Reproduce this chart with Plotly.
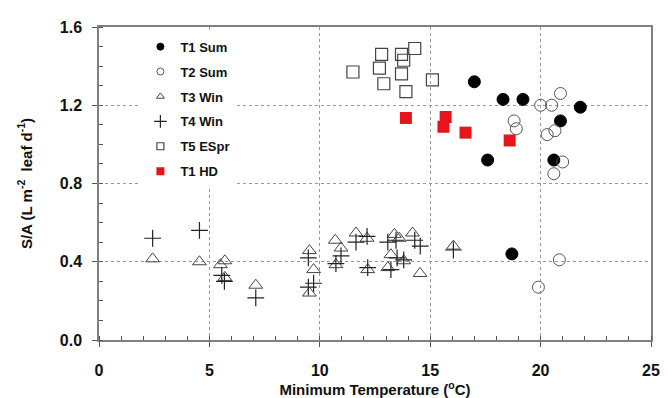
import plotly.graph_objects as go

# ---- data ----
t1_sum_x = [17.0, 18.3, 19.2, 21.8, 20.9, 17.6, 20.6, 18.7]
t1_sum_y = [1.32, 1.23, 1.23, 1.19, 1.12, 0.92, 0.92, 0.44]

t2_sum_x = [20.9, 20.0, 20.5, 18.8, 18.9, 20.65, 20.3, 21.0, 20.6, 20.85, 19.9]
t2_sum_y = [1.26, 1.20, 1.20, 1.12, 1.08, 1.07, 1.05, 0.91, 0.85, 0.41, 0.27]

t3_win_x = [2.43, 4.55, 5.5, 5.7, 5.7, 7.1, 9.53, 9.72, 9.53, 10.7, 10.96, 10.73,
            11.64, 12.14, 12.17, 13.38, 13.6, 13.22, 13.08, 13.8, 14.2, 14.54, 16.05]
t3_win_y = [0.415, 0.40, 0.385, 0.405, 0.32, 0.28, 0.457, 0.36, 0.24, 0.51, 0.47, 0.385,
            0.547, 0.52, 0.36, 0.54, 0.52, 0.436, 0.37, 0.405, 0.547, 0.34, 0.48]

t4_win_x = [2.43, 4.55, 5.56, 5.68, 7.1, 9.48, 9.72, 9.48, 10.96, 10.73, 11.64, 12.14,
            12.17, 13.08, 13.45, 13.22, 13.8, 13.5, 14.3, 14.55, 16.05]
t4_win_y = [0.52, 0.56, 0.33, 0.30, 0.215, 0.42, 0.29, 0.27, 0.43, 0.39, 0.50, 0.53,
            0.37, 0.50, 0.51, 0.36, 0.41, 0.42, 0.51, 0.48, 0.46]

t5_espr_x = [11.5, 12.8, 12.7, 12.9, 13.7, 13.8, 13.7, 14.3, 13.9, 15.1]
t5_espr_y = [1.37, 1.46, 1.39, 1.31, 1.46, 1.43, 1.36, 1.49, 1.27, 1.33]

t1_hd_x = [13.9, 15.7, 15.6, 16.6, 18.6]
t1_hd_y = [1.135, 1.14, 1.09, 1.06, 1.02]

series_names = ["T1 Sum", "T2 Sum", "T3 Win", "T4 Win", "T5 ESpr", "T1 HD"]

FONT = "Liberation Sans, Arial, sans-serif"

styles = [
    dict(symbol="circle", color="black", line=dict(color="black", width=1)),
    dict(symbol="circle-open", color="#555555", line=dict(color="#555555", width=1)),
    dict(symbol="triangle-up-open", color="#444444", line=dict(color="#444444", width=1)),
    dict(symbol="cross-thin-open", color="#222222", line=dict(color="#222222", width=1.2)),
    dict(symbol="square-open", color="#444444", line=dict(color="#444444", width=1.2)),
    dict(symbol="square", color="#e8141b", line=dict(color="#e8141b", width=0)),
]
sizes = [12, 12, 12, 12, 12, 12]
legend_sizes = [7, 7, 7, 9, 7, 8]
xs = [t1_sum_x, t2_sum_x, t3_win_x, t4_win_x, t5_espr_x, t1_hd_x]
ys = [t1_sum_y, t2_sum_y, t3_win_y, t4_win_y, t5_espr_y, t1_hd_y]

fig = go.Figure()
for i, name in enumerate(series_names):
    st = styles[i]
    fig.add_trace(go.Scatter(
        x=xs[i], y=ys[i], mode="markers", name=name, showlegend=False,
        marker=dict(symbol=st["symbol"], size=sizes[i], color=st["color"], line=st["line"]),
    ))
for i, name in enumerate(series_names):
    st = styles[i]
    fig.add_trace(go.Scatter(
        x=[None], y=[None], mode="markers", name=name, showlegend=True,
        legendgroup="g%d" % i,
        marker=dict(symbol=st["symbol"], size=legend_sizes[i], color=st["color"], line=st["line"]),
    ))

fig.update_layout(
    width=668, height=398,
    margin=dict(l=91, r=25, t=19, b=66),
    paper_bgcolor="white", plot_bgcolor="white",
    font=dict(family=FONT, color="#111111"),
    showlegend=True,
    legend=dict(
        x=0.075, y=0.985, xanchor="left", yanchor="top",
        bgcolor="white", borderwidth=0,
        font=dict(family=FONT, size=13, color="#111111", weight="bold"),
        tracegroupgap=5, itemwidth=30,
    ),
    xaxis=dict(
        range=[0, 25], tickmode="array", tickvals=[0, 5, 10, 15, 20, 25],
        automargin=False,
        ticks="outside", ticklen=5, tickcolor="#555555",
        minor=dict(dtick=1, ticks="inside", ticklen=4, tickcolor="#555555", showgrid=False),
        showgrid=True, gridcolor="#999999", griddash="dot", gridwidth=1,
        showline=True, linecolor="#808080", linewidth=1.5, mirror=True,
        zeroline=False,
        tickfont=dict(family=FONT, size=16, color="#111111", weight="bold"),
        ticklabelstandoff=10,
        title=dict(text="Minimum Temperature (<sup>o</sup>C)", standoff=5,
                   font=dict(family=FONT, size=15, color="#111111", weight="bold")),
    ),
    yaxis=dict(
        range=[0, 1.6], tickmode="array", tickvals=[0, 0.4, 0.8, 1.2, 1.6],
        ticktext=["0.0", "0.4", "0.8", "1.2", "1.6"],
        automargin=False,
        ticks="outside", ticklen=5, tickcolor="#555555",
        minor=dict(dtick=0.1, ticks="inside", ticklen=4, tickcolor="#555555", showgrid=False),
        showgrid=True, gridcolor="#999999", griddash="dot", gridwidth=1,
        showline=True, linecolor="#808080", linewidth=1.5, mirror=True,
        zeroline=False,
        tickfont=dict(family=FONT, size=16, color="#111111", weight="bold"),
        ticklabelstandoff=7,
        title=dict(text="S/A (L m<sup>-2</sup>  leaf d<sup>-1</sup>)", standoff=24,
                   font=dict(family=FONT, size=15, color="#111111", weight="bold")),
    ),
)

fig.write_html("out.html")
